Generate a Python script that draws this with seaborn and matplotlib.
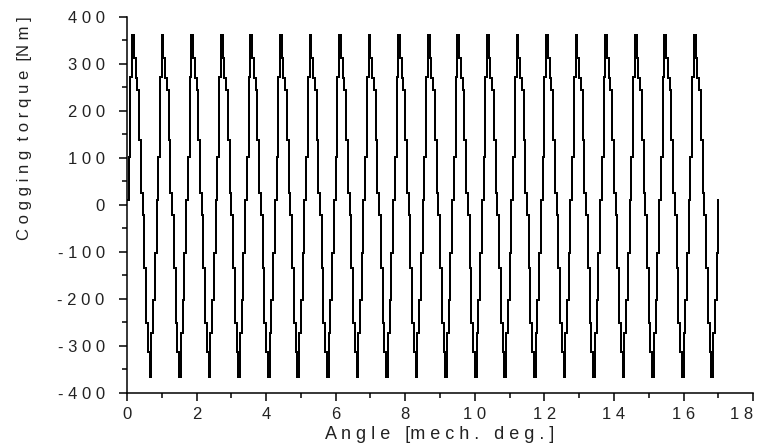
import numpy as np
import pandas as pd
import seaborn as sns
import matplotlib.pyplot as plt
from matplotlib.ticker import MultipleLocator

# one period of the cogging torque [Nm], 0.05 deg per sample
period_torque = [10, 103, 273, 362, 313, 270, 245, 138, 25,
                 -21, -134, -251, -312, -366, -272, -202, -102]
step_deg = 0.05
# trace stops at 17.0 deg, first sample of the 21st period
n_samples = 341

xtick_vals = [0, 2, 4, 6, 8, 10, 12, 14, 16, 18]
xtick_labels = ["0", "2", "4", "6", "8", "1 0", "1 2", "1 4", "1 6", "1 8"]
ytick_vals = [-400, -300, -200, -100, 0, 100, 200, 300, 400]
ytick_labels = ["- 4 0 0", "- 3 0 0", "- 2 0 0", "- 1 0 0", "0",
                "1 0 0", "2 0 0", "3 0 0", "4 0 0"]

# build the sampled trace
torque = np.tile(period_torque, n_samples // len(period_torque) + 1)[:n_samples]
angle = np.round(np.arange(n_samples) * step_deg, 2)
df = pd.DataFrame({"angle": angle, "torque": torque})

sns.set_style("ticks")
plt.rcParams["font.family"] = ["Liberation Sans", "DejaVu Sans"]

fig, ax = plt.subplots(figsize=(7.63, 4.45), dpi=100)
fig.subplots_adjust(left=0.1664, right=0.987, top=0.9618, bottom=0.1169)

# stepped, non-antialiased trace gives the jagged look of the original
sns.lineplot(data=df, x="angle", y="torque", color="black", lw=1.1,
             drawstyle="steps-post", antialiased=False, ax=ax)

ax.set_xlim(0, 18)
ax.set_ylim(-400, 400)
ax.set_xticks(xtick_vals)
ax.set_xticklabels(xtick_labels)
ax.set_yticks(ytick_vals)
ax.set_yticklabels(ytick_labels)
ax.xaxis.set_minor_locator(MultipleLocator(1))
ax.yaxis.set_minor_locator(MultipleLocator(50))

ax.tick_params(which="both", direction="out", width=1.1, color="black",
               labelsize=12, labelcolor="#222222")
ax.tick_params(which="major", length=6)
ax.tick_params(which="minor", length=3.5)
ax.tick_params(axis="y", which="major", pad=10)
ax.tick_params(axis="x", which="major", pad=4)
# last label sits against the edge of the figure
ax.get_xticklabels()[-1].set_horizontalalignment("right")

for side in ["top", "right"]:
    ax.spines[side].set_visible(False)
for side in ["left", "bottom"]:
    ax.spines[side].set_linewidth(1.1)
    ax.spines[side].set_color("black")

ax.set_xlabel("A n g l e   [m e c h .   d e g . ]", fontsize=13,
              labelpad=3, color="#222222")
ax.set_ylabel("C o g g i n g  t o r q u e  [N m ]", fontsize=12,
              color="#222222")
ax.yaxis.set_label_coords(-0.152, 0.705)

fig.savefig("out.png", dpi=100)
